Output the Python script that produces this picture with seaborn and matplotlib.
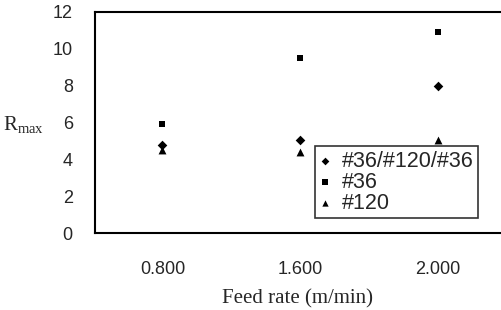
import matplotlib
matplotlib.use("Agg")
import matplotlib.pyplot as plt
import seaborn as sns
import pandas as pd

categories = ["0.800", "1.600", "2.000"]
series_names = ["#36/#120/#36", "#36", "#120"]
vals_mix = [4.8, 5.05, 8.0]
vals_36 = [5.9, 9.5, 10.9]
vals_120 = [4.5, 4.4, 5.05]

rows = []
for name, vals in zip(series_names, [vals_mix, vals_36, vals_120]):
    for c, v in zip(categories, vals):
        rows.append({"feed": c, "Rmax": v, "series": name})
df = pd.DataFrame(rows)

sns.set_style("white")
plt.rcParams["font.family"] = ["Liberation Sans", "DejaVu Sans"]
plt.rcParams["mathtext.fontset"] = "custom"
plt.rcParams["mathtext.rm"] = "Liberation Serif"

fig = plt.figure(figsize=(5.01, 3.10), dpi=100)
ax = fig.add_axes([95/501, 1-233/310, 406/501, 221/310])

markers = {"#36/#120/#36": "D", "#36": "s", "#120": "^"}
sizes_map = {"#36/#120/#36": 24, "#36": 24, "#120": 32}
for name in series_names:
    sub = df[df.series == name]
    sns.scatterplot(data=sub, x="feed", y="Rmax", marker=markers[name], color="black",
                    s=sizes_map[name], edgecolor="black", linewidth=0, ax=ax, label=name)

ax.set_xlim(-0.49, 2.46)
ax.set_ylim(0, 12)
ax.set_yticks([0, 2, 4, 6, 8, 10, 12])
ax.tick_params(axis="y", direction="in", length=4, width=1, pad=16, labelsize=13)
ax.tick_params(axis="x", length=0, pad=20, labelsize=13)
for s in ["left", "bottom", "top"]:
    ax.spines[s].set_color("black")
    ax.spines[s].set_linewidth(1.5)
ax.spines["right"].set_visible(False)

ax.set_xlabel("Feed rate (m/min)", family="Liberation Serif", fontsize=15, labelpad=8)
ax.set_ylabel(r"$\mathrm{R}_{\mathrm{max}}$", fontsize=15, rotation=0, va="center")
ax.yaxis.set_label_coords(-0.175, 0.49)

leg = ax.legend(loc="lower left", bbox_to_anchor=(0.542, 0.068), borderaxespad=0,
                frameon=True, fancybox=False, fontsize=15.5, handlelength=0.55,
                handletextpad=0.5, labelspacing=0.0, borderpad=0.2, markerscale=0.8)
leg.get_frame().set_edgecolor("black")
leg.get_frame().set_linewidth(1.2)

fig.savefig("out.png", dpi=100)
